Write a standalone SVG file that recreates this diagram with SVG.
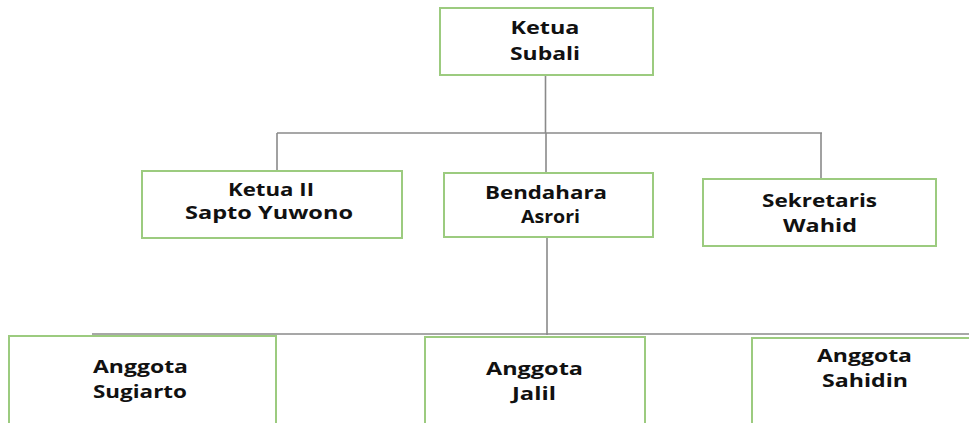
<svg xmlns="http://www.w3.org/2000/svg" width="969" height="423" viewBox="0 0 969 423">
<style>
.box{fill:#fff;stroke:#9ccb7f;stroke-width:2}
.ln{fill:none;stroke:#8a8a8a;stroke-width:1.6}
.t{font-family:"Open Sans","Liberation Sans",sans-serif;font-weight:700;font-size:17px;fill:#111;text-anchor:middle}
</style>
<rect width="969" height="423" fill="#fff"/>
<g id="connectors">
<path class="ln" d="M545.5,75 V133 M277,133 H822 M277,133 V171 M546,133 V173 M821,133 V179 M547,237 V335 M92,334 H969"/>
</g>
<g id="ketua">
<rect class="box" x="440" y="8" width="213" height="67"/>
<text class="t" x="545" y="34" textLength="69" lengthAdjust="spacingAndGlyphs">Ketua</text>
<text class="t" x="545" y="60" textLength="70" lengthAdjust="spacingAndGlyphs">Subali</text>
</g>
<g id="ketua2">
<rect class="box" x="142" y="171" width="260" height="67"/>
<text class="t" x="271" y="196" textLength="86" lengthAdjust="spacingAndGlyphs">Ketua II</text>
<text class="t" x="269" y="219" textLength="168" lengthAdjust="spacingAndGlyphs">Sapto Yuwono</text>
</g>
<g id="bendahara">
<rect class="box" x="444" y="173" width="209" height="64"/>
<text class="t" x="546" y="199" textLength="122" lengthAdjust="spacingAndGlyphs">Bendahara</text>
<text class="t" x="550.5" y="223" textLength="59" lengthAdjust="spacingAndGlyphs">Asrori</text>
</g>
<g id="sekretaris">
<rect class="box" x="703" y="179" width="233" height="67"/>
<text class="t" x="819.5" y="207" textLength="115" lengthAdjust="spacingAndGlyphs">Sekretaris</text>
<text class="t" x="820" y="232" textLength="74" lengthAdjust="spacingAndGlyphs">Wahid</text>
</g>
<g id="sugiarto">
<rect class="box" x="9" y="336" width="267" height="100"/>
<text class="t" x="140.5" y="373" textLength="95" lengthAdjust="spacingAndGlyphs">Anggota</text>
<text class="t" x="140" y="398" textLength="94" lengthAdjust="spacingAndGlyphs">Sugiarto</text>
</g>
<g id="jalil">
<rect class="box" x="425" y="337" width="220" height="100"/>
<text class="t" x="534.5" y="375" textLength="97" lengthAdjust="spacingAndGlyphs">Anggota</text>
<text class="t" x="534" y="400" textLength="44" lengthAdjust="spacingAndGlyphs">Jalil</text>
</g>
<g id="sahidin">
<rect class="box" x="752" y="338" width="240" height="100"/>
<text class="t" x="864.5" y="362" textLength="95" lengthAdjust="spacingAndGlyphs">Anggota</text>
<text class="t" x="865" y="387" textLength="86" lengthAdjust="spacingAndGlyphs">Sahidin</text>
</g>
</svg>
